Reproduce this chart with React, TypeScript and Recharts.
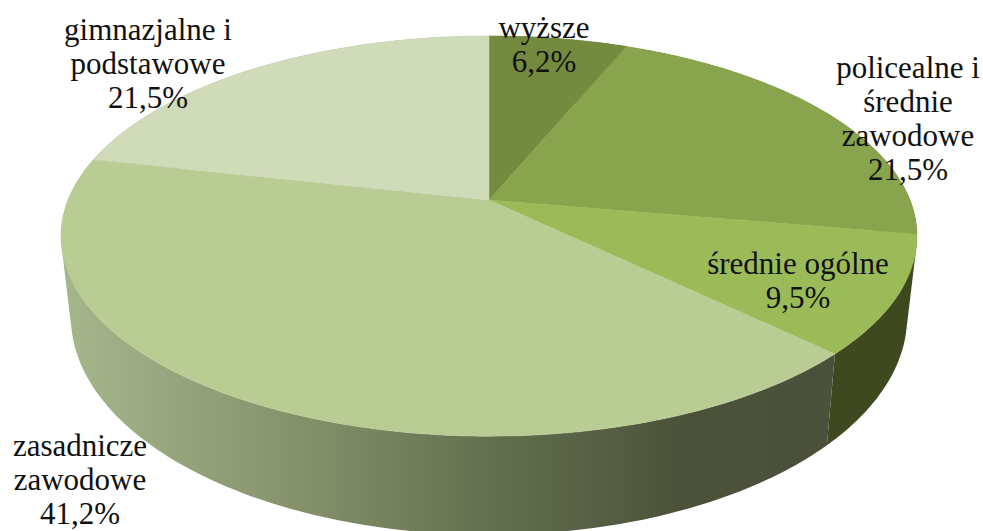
import { PieChart, Pie } from "recharts";

const categories = [
  ["wyższe"],
  ["policealne i", "średnie", "zawodowe"],
  ["średnie ogólne"],
  ["zasadnicze", "zawodowe"],
  ["gimnazjalne i", "podstawowe"],
];
const shares = [6.2, 21.5, 9.5, 41.2, 21.5];

const topColors = ["#738a3f", "#88a44c", "#9bbb59", "#b9cc94", "#d0dbba"];
const wallColors = ["#4a5a28", "#55662c", "#3f4920", "url(#wallFade)", "#8a9a70"];

// where each label block sits: centre x, first baseline
const labelSpots = [
  [544, 38],
  [908, 78],
  [798, 274],
  [80, 456],
  [148, 40],
];
const LINE_HEIGHT = 34;

const rows = categories.map((lines, i) => ({
  name: lines.join(" "),
  value: shares[i],
  fill: topColors[i],
  wall: wallColors[i],
}));

// the Excel 3D pie is a tilted disc, so the circle goes through a perspective map
const PERSPECTIVE = 0.18;
const SQUASH = 0.46;
const RAD = Math.PI / 180;

function rimPoint(cx: number, cy: number, r: number, deg: number) {
  const u = Math.cos(deg * RAD);
  const v = -Math.sin(deg * RAD);
  const d = 1 - PERSPECTIVE * v;
  return [cx + (r * u) / d, cy + (r * SQUASH * v) / d];
}

function lowerRing(cx: number, p: number[]) {
  return [cx + 0.977 * (p[0] - cx), 1.09 * p[1] + 59.5];
}

function rimSamples(props: any) {
  const { cx, cy, outerRadius, startAngle, endAngle } = props;
  const steps = Math.max(2, Math.ceil(Math.abs(endAngle - startAngle)));
  const pts: number[][] = [];
  for (let i = 0; i <= steps; i++) {
    pts.push(rimPoint(cx, cy, outerRadius, startAngle + ((endAngle - startAngle) * i) / steps));
  }
  return pts;
}

const toPath = (pts: number[][]) =>
  "M" + pts.map((p) => `${p[0].toFixed(2)},${p[1].toFixed(2)}`).join("L") + "Z";

function TopFace(props: any) {
  const pts = [[props.cx, props.cy], ...rimSamples(props)];
  return <path d={toPath(pts)} fill={props.fill} stroke={props.fill} strokeWidth={0.5} />;
}

// one small quad per degree, all wound the same way, so the side silhouette fills in
function WallFace(props: any) {
  const rim = rimSamples(props);
  let d = "";
  for (let i = 0; i < rim.length - 1; i++) {
    const quad = [rim[i], rim[i + 1], lowerRing(props.cx, rim[i + 1]), lowerRing(props.cx, rim[i])];
    let area = 0;
    quad.forEach((p, k) => {
      const q = quad[(k + 1) % 4];
      area += p[0] * q[1] - q[0] * p[1];
    });
    d += toPath(area < 0 ? quad.reverse() : quad);
  }
  return <path d={d} fill={props.wall} stroke="none" />;
}

function renderLabel(props: any) {
  const i = props.index;
  const lines = [...categories[i], `${shares[i].toFixed(1).replace(".", ",")}%`];
  const [x, y] = labelSpots[i];
  return (
    <text
      key={i}
      x={x}
      y={y}
      textAnchor="middle"
      fontFamily="'Liberation Serif', serif"
      fontSize={31}
      fill="#111"
    >
      {lines.map((line, n) => (
        <tspan key={n} x={x} y={y + n * LINE_HEIGHT}>
          {line}
        </tspan>
      ))}
    </text>
  );
}

export default function App() {
  return (
    <div style={{ position: "absolute", left: 0, top: 0, width: 983, height: 531, background: "#fff" }}>
      <PieChart width={983} height={531} margin={{ top: 0, right: 0, bottom: 0, left: 0 }}>
        <defs>
          <linearGradient id="wallFade" gradientUnits="userSpaceOnUse" x1="68" y1="0" x2="833" y2="0">
            <stop offset="0%" stopColor="#a6b68b" />
            <stop offset="35%" stopColor="#7f8b65" />
            <stop offset="55%" stopColor="#63704f" />
            <stop offset="80%" stopColor="#4c523a" />
            <stop offset="100%" stopColor="#4a5039" />
          </linearGradient>
        </defs>
        <Pie
          data={rows}
          dataKey="value"
          cx={489}
          cy={200}
          outerRadius={421}
          startAngle={90}
          endAngle={-270}
          paddingAngle={0}
          stroke="none"
          shape={WallFace}
          isAnimationActive={false}
        />
        <Pie
          data={rows}
          dataKey="value"
          cx={489}
          cy={200}
          outerRadius={421}
          startAngle={90}
          endAngle={-270}
          paddingAngle={0}
          stroke="none"
          shape={TopFace}
          label={renderLabel}
          labelLine={false}
          isAnimationActive={false}
        />
      </PieChart>
    </div>
  );
}
